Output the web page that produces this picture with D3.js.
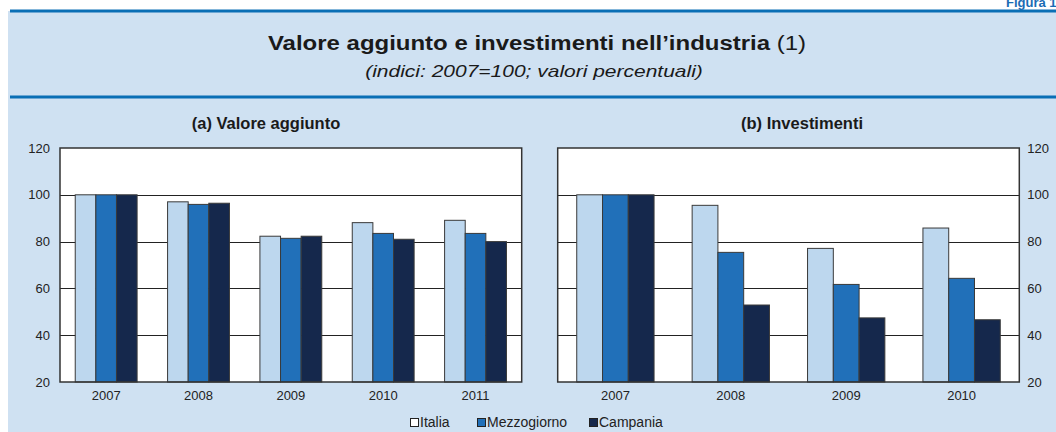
<!DOCTYPE html>
<html><head><meta charset="utf-8">
<script src="https://cdn.jsdelivr.net/npm/d3@7"></script>
<style>body{margin:0;background:#fff}svg{display:block;font-family:"Liberation Sans",Arial,sans-serif}</style>
</head><body><svg id="c" width="1056" height="432"></svg>
<script>
const series = ["Italia","Mezzogiorno","Campania"];
const colors = ["#bdd7ee","#2170b9","#15284c"];
const yearsA = ["2007","2008","2009","2010","2011"];
const italiaA = [100, 97.0, 82.3, 88.1, 89.1];
const mezzA   = [100, 95.9, 81.4, 83.5, 83.5];
const campA   = [100, 96.4, 82.3, 81.0, 80.0];
const yearsB = ["2007","2008","2009","2010"];
const italiaB = [100, 95.5, 77.1, 85.8];
const mezzB   = [100, 75.4, 61.7, 64.3];
const campB   = [100, 52.9, 47.4, 46.6];
const yTicks = [20,40,60,80,100,120];

const svg = d3.select("#c");
svg.append("rect").attr("x",8).attr("y",11).attr("width",1048).attr("height",421).attr("fill","#cfe1f2");
svg.append("rect").attr("x",10).attr("y",9.5).attr("width",1046).attr("height",3).attr("fill","#0a6fb5");
svg.append("rect").attr("x",10).attr("y",95.5).attr("width",1046).attr("height",3).attr("fill","#0a6fb5");
svg.append("text").attr("transform","translate(1006,7)").attr("font-size",13).attr("font-weight","bold").attr("fill","#1a6cb4").text("Figura 1.");

const t = svg.append("text").attr("transform","translate(537,50) scale(1.23,1)").attr("text-anchor","middle").attr("font-size",19.5).attr("fill","#1a1a1a");
t.append("tspan").attr("font-weight","bold").text("Valore aggiunto e investimenti nell\u2019industria");
t.append("tspan").text(" (1)");
svg.append("text").attr("transform","translate(534,76.5) scale(1.25,1)").attr("text-anchor","middle").attr("font-size",16.8).attr("font-style","italic").attr("fill","#1a1a1a").text("(indici: 2007=100; valori percentuali)");

function panel(x0, x1, years, data, title, titleX, axisRight){
  const y = d3.scaleLinear().domain([20,120]).range([382,148]);
  const x = d3.scaleBand().domain(years).range([x0,x1]).paddingInner(0.33).paddingOuter(0.165);
  const xs = d3.scaleBand().domain(series).range([0,x.bandwidth()]);
  const g = svg.append("g");
  g.append("rect").attr("x",x0).attr("y",148).attr("width",x1-x0).attr("height",234).attr("fill","#fff");
  g.selectAll("line.grid").data(yTicks.slice(1,-1)).join("line")
    .attr("x1",x0).attr("x2",x1).attr("y1",d=>Math.round(y(d))+0.5).attr("y2",d=>Math.round(y(d))+0.5)
    .attr("stroke","#222").attr("stroke-width",1);
  years.forEach((yr,i)=>{
    series.forEach((s,j)=>{
      const v = data[j][i];
      g.append("rect").attr("x",x(yr)+xs(s)).attr("y",y(v)).attr("width",xs.bandwidth()).attr("height",y(20)-y(v))
        .attr("fill",colors[j]).attr("stroke","#3a3a3a").attr("stroke-width",1);
    });
  });
  g.append("rect").attr("x",x0).attr("y",148).attr("width",x1-x0).attr("height",234).attr("fill","none").attr("stroke","#333").attr("stroke-width",1.5);
  const xa = g.append("g").attr("transform","translate(0,382)").call(d3.axisBottom(x).tickSize(0).tickPadding(9));
  xa.select(".domain").remove();
  xa.selectAll("text").attr("font-size",13).attr("fill","#222").attr("font-family","Liberation Sans, Arial, sans-serif");
  const ya = g.append("g").attr("transform",`translate(${axisRight? x1+8 : x0-10},0)`)
    .call((axisRight? d3.axisRight(y) : d3.axisLeft(y)).tickValues(yTicks).tickSize(0).tickPadding(0));
  ya.select(".domain").remove();
  ya.selectAll("text").attr("font-size",13).attr("fill","#222").attr("font-family","Liberation Sans, Arial, sans-serif");
  svg.append("text").attr("x",titleX).attr("y",129).attr("text-anchor","middle").attr("font-size",16.5).attr("font-weight","bold").attr("fill","#1a1a1a").text(title);
}
panel(60, 521.7, yearsA, [italiaA, mezzA, campA], "(a) Valore aggiunto", 266, false);
panel(557.7, 1019.3, yearsB, [italiaB, mezzB, campB], "(b) Investimenti", 802, true);

const legX = [410, 477, 589];
const lg = svg.append("g");
series.forEach((s,j)=>{
  lg.append("rect").attr("x",legX[j]+0.5).attr("y",418.5).attr("width",8).attr("height",8).attr("fill",j===0?"#fff":colors[j]).attr("stroke","#222").attr("stroke-width",1);
  lg.append("text").attr("x",legX[j]+10).attr("y",427).attr("font-size",14).attr("fill","#222").text(s);
});
</script></body></html>
